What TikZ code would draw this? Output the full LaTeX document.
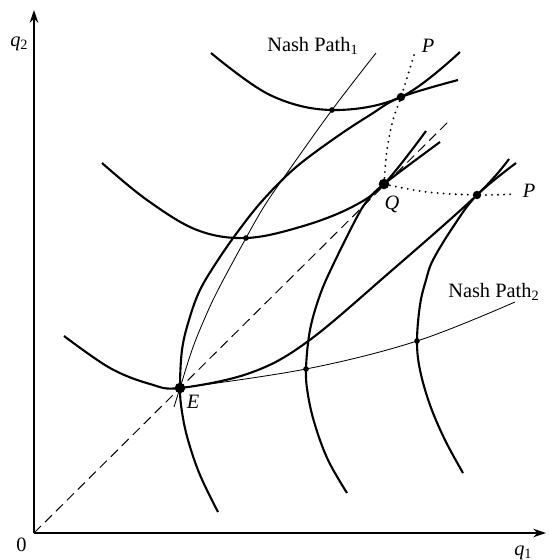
\documentclass[tikz,border=0pt]{standalone}
\usepackage{fontspec}
\setmainfont{Liberation Serif}
\usetikzlibrary{arrows.meta}

\begin{document}
\begin{tikzpicture}[x=0.025cm,y=-0.025cm,
    axis/.style={line width=1.2pt, -{Stealth[length=9pt,width=6pt]}},
    iso/.style={line width=1.5pt, smooth, tension=0.6},
    nashline/.style={line width=0.6pt, smooth, tension=0.6},
    pline/.style={line width=1.5pt, line cap=round, dash pattern=on 0pt off 4.3pt, smooth, tension=0.6},
    bigdot/.style={circle, fill, inner sep=0pt, minimum size=7.5pt},
    middot/.style={circle, fill, inner sep=0pt, minimum size=6pt},
    smalldot/.style={circle, fill, inner sep=0pt, minimum size=4pt},
    lab/.style={font=\fontsize{14.5}{17}\selectfont, inner sep=0pt}]

    \useasboundingbox (0,0) rectangle (548,560);

    % axes
    \coordinate (O) at (34,533);
    \coordinate (ytop) at (34,10);
    \coordinate (xend) at (546,533);
    \draw[axis] (O) -- (ytop);
    \draw[axis] (O) -- (xend);
    \node[lab, anchor=base west] (q2) at (10,46) {\textit{q}\textsubscript{2}};
    \node[lab, anchor=base west] (zero) at (16,551) {0};
    \node[lab, anchor=base west] (q1) at (514,555) {\textit{q}\textsubscript{1}};

    % points
    \node[bigdot] (E) at (180,388) {};
    \node[bigdot] (Q) at (384,184) {};
    \node[middot] (T) at (401,97) {};
    \node[middot] (R) at (477,195) {};
    \node[smalldot] (m1) at (246,238) {};
    \node[smalldot] (m2) at (332,110) {};
    \node[smalldot] (n1) at (306,369) {};
    \node[smalldot] (n2) at (417,341) {};
    \coordinate (diagend) at (449,121);

    % 45 degree line
    \draw[line width=0.7pt, dash pattern=on 7pt off 4pt] (O) -- (diagend);

    % iso-profit curves of firm 2
    \draw[iso] plot coordinates {(64,336) (110,368) (150,384) (E.center)
      (250,373) (307,342) (390,272) (R.center) (509,159)};
    \draw[iso] plot coordinates {(102,163) (147,200) (197,230) (m1.center)
      (300,227) (350,208) (Q.center) (426,131)};
    \draw[iso] plot coordinates {(211,53) (270,95) (m2.center) (T.center) (460,52)};

    % iso-profit curves of firm 1
    \draw[iso] plot coordinates {(218,512) (200,475) (188,440) (182,412) (E.center)
      (182,350) (189,320) (200,290) (218,260) (239,230) (263,200) (295,168)
      (335,138) (370,115) (T.center) (458,80)};
    \draw[iso] plot coordinates {(347,493) (328,460) (315,425) (308,395) (n1.center)
      (310,330) (320,295) (333,265) (357,217) (368,200) (Q.center) (440,142)};
    \draw[iso] plot coordinates {(463,473) (445,440) (430,405) (420,370) (n2.center)
      (420,305) (426,280) (433,260) (453,227) (R.center) (516,163)};

    % Nash paths
    \draw[nashline] plot coordinates {(174,407) (E.center) (192,350) (204,320)
      (218,290) (m1.center) (265,205) (287,173) (m2.center) (376,53)};
    \draw[nashline] plot coordinates {(E.center) (n1.center) (n2.center) (515,302)};
    \node[lab, anchor=base west] (nash1) at (267,51) {Nash Path\textsubscript{1}};
    \node[lab, anchor=base west] (nash2) at (448,297) {Nash Path\textsubscript{2}};

    % P lines
    \coordinate (ptop) at (415,52);
    \coordinate (pright) at (515,194);
    \draw[pline] plot coordinates {(Q.center) (387,150) (393,120) (T.center) (ptop)};
    \draw[pline] plot coordinates {(Q.center) (427,192) (R.center) (pright)};

    % labels
    \node[lab] (Elab) at (193,402) {\textit{E}};
    \node[lab] (Qlab) at (392,204) {\textit{Q}};
    \node[lab] (Ptop) at (428,46) {\textit{P}};
    \node[lab] (Pright) at (529,191) {\textit{P}};
  \end{tikzpicture}
\end{document}
